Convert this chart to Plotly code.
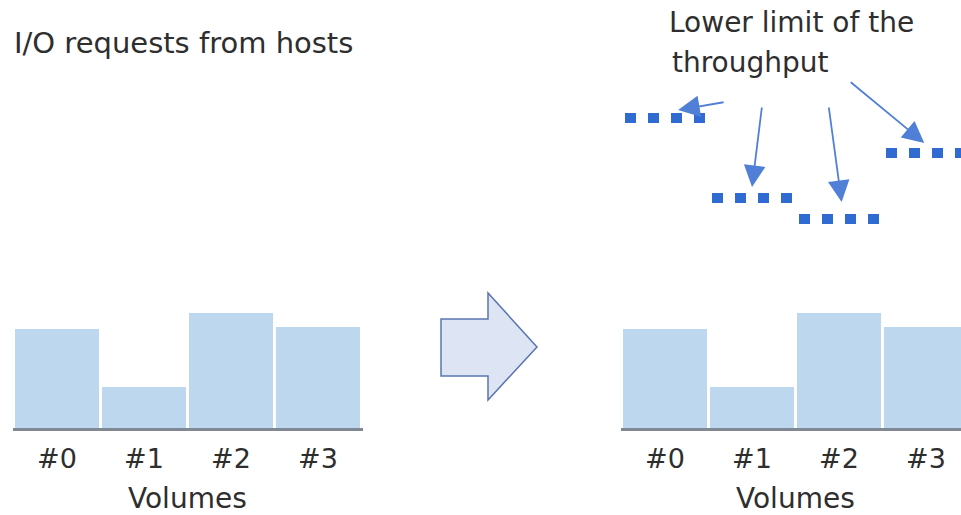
import plotly.graph_objects as go

W, H = 961, 515

# data
volumes = ["#0", "#1", "#2", "#3"]
io_requests = [99, 41, 115, 101]        # load per volume (same before / after)
lower_limits = [310, 230, 209, 275]     # lower limit of throughput per volume

BAR = "#bdd7ee"
AXIS = "#7f8893"
DOT = "#2f6bd0"
ARROW = "#4f7fd6"
TXT = "#2e2e2e"
FONT = "DejaVu Sans"


def paper(x, y):
    # pixel position -> paper coords
    return x / W, 1 - y / H


idx = list(range(len(volumes)))
fig = go.Figure()

# bars: left = requests from hosts, right = same with lower limits
for xa in ("x", "x2"):
    fig.add_trace(go.Bar(
        x=idx, y=io_requests, width=0.966,
        marker=dict(color=BAR, line_width=0),
        xaxis=xa, yaxis="y", hoverinfo="skip",
    ))

# dotted lower limit, one per volume
for i, lim in enumerate(lower_limits):
    fig.add_trace(go.Scatter(
        x=[i - 0.46, i + 0.47], y=[lim, lim],
        mode="lines", line=dict(color=DOT, width=10, dash="11px,12px"),
        xaxis="x2", yaxis="y", hoverinfo="skip",
    ))

# callout arrows toward each limit line
arrow_dx = [0.15, 1.0, 2.03, 2.98]
arrow_gap = [8, 11, 17, 10]
arrow_tail = [(47, -8), (10, -81), (-13, -96), (-75, -62)]
for i in idx:
    fig.add_annotation(
        x=arrow_dx[i], y=lower_limits[i] + arrow_gap[i], xref="x2", yref="y",
        ax=arrow_tail[i][0], ay=arrow_tail[i][1],
        text="", showarrow=True, arrowhead=2, arrowsize=2.4,
        arrowwidth=1.8, arrowcolor=ARROW, standoff=0,
    )

xaxis_common = dict(
    tickmode="array", tickvals=idx, ticktext=volumes,
    tickfont=dict(size=27, color=TXT, family=FONT),
    showline=True, linecolor=AXIS, linewidth=3,
    showgrid=False, zeroline=False, ticks="", anchor="y",
    ticklabelstandoff=5, fixedrange=True,
)

fig.update_layout(
    width=W, height=H,
    margin=dict(l=0, r=0, t=0, b=0),
    paper_bgcolor="white", plot_bgcolor="white",
    showlegend=False,
    font=dict(family=FONT, color=TXT),
    xaxis=dict(domain=[13 / W, 363 / W], range=[-0.506, 3.517], **xaxis_common),
    xaxis2=dict(domain=[621 / W, 1.0], range=[-0.506, 3.402], **xaxis_common),
    yaxis=dict(domain=[(H - 428) / H, (H - 108) / H], range=[0, 320],
               visible=False, fixedrange=True),
)

# axis titles
for xa in ("x", "x2"):
    fig.add_annotation(
        x=1.5, xref=xa, y=1 - 498 / H, yref="paper",
        text="Volumes", showarrow=False, yanchor="middle",
        font=dict(size=28, color=TXT),
    )

# headings
x0, y0 = paper(12, 43)
fig.add_annotation(x=x0, y=y0, xref="paper", yref="paper",
                   text="I/O requests from hosts", showarrow=False,
                   xanchor="left", yanchor="middle", font=dict(size=29, color=TXT))
x0, y0 = paper(667, 22)
fig.add_annotation(x=x0, y=y0, xref="paper", yref="paper",
                   text="Lower limit of the", showarrow=False,
                   xanchor="left", yanchor="middle", font=dict(size=28, color=TXT))
x0, y0 = paper(670, 62)
fig.add_annotation(x=x0, y=y0, xref="paper", yref="paper",
                   text="throughput", showarrow=False,
                   xanchor="left", yanchor="middle", font=dict(size=28, color=TXT))

# big block arrow between the two charts
pts = [(441, 319), (488, 319), (488, 293), (537, 347),
       (488, 400), (488, 376), (441, 376)]
path = "M " + " L ".join(f"{paper(x, y)[0]:.4f},{paper(x, y)[1]:.4f}" for x, y in pts) + " Z"
fig.add_shape(type="path", path=path, xref="paper", yref="paper",
              fillcolor="#dde5f4", line=dict(color="#5a75b0", width=1.5))

# page body has an 8px default margin; drop it so the figure sits at 0,0
fig.write_html("out.html", config={"displayModeBar": False},
               post_script="document.body.style.margin='0';")
